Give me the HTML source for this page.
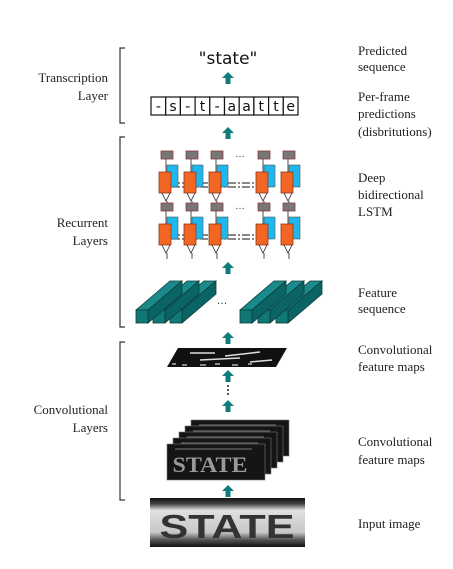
<!DOCTYPE html>
<html><head><meta charset="utf-8"><style>
html,body{margin:0;padding:0;background:#fff;}
svg{display:block;}
.l{font-family:"Liberation Serif",serif;font-size:13px;fill:#222;}
</style></head><body>
<svg id="s" width="453" height="569" viewBox="0 0 453 569">
<defs>
<linearGradient id="ig" x1="0" y1="0" x2="0" y2="1">
<stop offset="0" stop-color="#111"/><stop offset="0.12" stop-color="#444"/><stop offset="0.25" stop-color="#e0e0e0"/><stop offset="0.7" stop-color="#c8c8c8"/><stop offset="0.85" stop-color="#555"/><stop offset="1" stop-color="#111"/>
</linearGradient>
</defs>
<g class="l" text-anchor="end">
<text x="108" y="82">Transcription</text>
<text x="108" y="100">Layer</text>
<text x="108" y="227">Recurrent</text>
<text x="108" y="245">Layers</text>
<text x="108" y="414">Convolutional</text>
<text x="108" y="432">Layers</text>
</g>
<g stroke="#333" stroke-width="1.2" fill="none">
<path d="M125 48 H120 V123 H125"/>
<path d="M125 137 H120 V327 H125"/>
<path d="M125 342 H120 V500 H125"/>
</g>
<g class="l">
<text x="358" y="55">Predicted</text><text x="358" y="71">sequence</text>
<text x="358" y="101">Per-frame</text><text x="358" y="118">predictions</text><text x="358" y="136">(disbritutions)</text>
<text x="358" y="182">Deep</text><text x="358" y="199">bidirectional</text><text x="358" y="216">LSTM</text>
<text x="358" y="297">Feature</text><text x="358" y="313">sequence</text>
<text x="358" y="354">Convolutional</text><text x="358" y="371">feature maps</text>
<text x="358" y="446">Convolutional</text><text x="358" y="464">feature maps</text>
<text x="358" y="528">Input image</text>
</g>
<text x="228" y="64" text-anchor="middle" font-family="'DejaVu Sans',sans-serif" font-size="17" fill="#111">"state"</text>
<g id="cells"></g>
<g id="lstm"></g>
<g id="feat"></g>
<g id="arrows"></g>
<g>
<polygon points="178,348 287,348 276,367 167,367" fill="#111"/>
<path d="M190 353 L215 353 M225 356 L260 352 M200 360 L240 358 M250 362 L272 360" stroke="#ddd" stroke-width="1.5"/>
<path d="M172 364 h4 M182 365 h5 M200 365 h6 M215 364 h5 M232 365 h6 M248 364 h4" stroke="#888" stroke-width="2"/>
</g>
<g fill="#222">
<circle cx="228" cy="386" r="1"/><circle cx="228" cy="390" r="1"/><circle cx="228" cy="394" r="1"/>
</g>
<g id="stack"></g>
<g>
<rect x="150" y="498" width="155" height="49" fill="url(#ig)"/>
<text x="227" y="538" text-anchor="middle" font-family="'Liberation Sans',sans-serif" font-weight="bold" font-size="33" fill="#333" textLength="135" lengthAdjust="spacingAndGlyphs">STATE</text>
</g>
</svg>
<script>
const NS='http://www.w3.org/2000/svg';
function mk(p,t,a){const e=document.createElementNS(NS,t);for(const k in a)e.setAttribute(k,a[k]);p.appendChild(e);return e;}
const chars=['-','s','-','t','-','a','a','t','t','e'];
const cg=document.getElementById('cells');
const cw=14.7;
chars.forEach((c,i)=>{
  const r=mk(cg,'rect',{x:151+i*cw,y:97,width:cw,height:18,fill:'#fff',stroke:'#111','stroke-width':1.2});
  
  
  const t=mk(cg,'text',{x:151+i*cw+cw/2,y:111,'text-anchor':'middle','font-family':"'DejaVu Sans',sans-serif",'font-size':14,fill:'#111'});
  t.textContent=c;
});
const ag=document.getElementById('arrows');
const arrowY=[72,127,262,332,370,400,485];
arrowY.forEach(y=>{
  const p=mk(ag,'polygon',{points:`228,${y} 234,${y+6} 230.5,${y+6} 230.5,${y+12} 225.5,${y+12} 225.5,${y+6} 222,${y+6}`,fill:'#0e7c7b'});
  
  
});
const lg=document.getElementById('lstm');
const cols=[166,191,216,263,288];
const layers=[{g:151,o:172},{g:203,o:224}];
layers.forEach(L=>{
  mk(lg,'path',{d:`M172 ${L.o+11} H262 M172 ${L.o+15} H262`,stroke:'#111','stroke-width':1,'stroke-dasharray':'8 2 2 2',fill:'none'});
  cols.forEach(x=>{
    const b=mk(lg,'rect',{x:x+1,y:L.o-7,width:11,height:22,fill:'#1fb8ee',stroke:'#555','stroke-width':0.6});
    
    
    const o=mk(lg,'rect',{x:x-7,y:L.o,width:12,height:21,fill:'#f26522',stroke:'#8a3a20','stroke-width':0.8});
    
    
    const g=mk(lg,'rect',{x:x-5,y:L.g,width:12,height:8,fill:'#777',stroke:'#8a3a3a','stroke-width':0.8});
    
    
    mk(lg,'path',{d:`M${x} ${L.g+8} V${L.o} M${x-4} ${L.o+21} L${x} ${L.o+29} L${x+4} ${L.o+21} M${x+1} ${L.o+29} V${L.o+35}`,stroke:'#222','stroke-width':0.8,fill:'none'});
  });
  const d=mk(lg,'text',{x:240,y:L.g+6,'text-anchor':'middle','font-size':10,fill:'#333','font-family':"'Liberation Sans',sans-serif"});d.textContent='…';
});
const fg=document.getElementById('feat');
const fx=[136,153,170,240,258,276];
fx.slice().reverse().forEach(x=>{
  const dx=34,dy=-29,w=12,h=13,y=310;
  mk(fg,'polygon',{points:`${x},${y} ${x+dx},${y+dy} ${x+dx+w},${y+dy} ${x+w},${y}`,fill:'#1a8a8a',stroke:'#0a3a3a','stroke-width':0.8});
  mk(fg,'polygon',{points:`${x+w},${y} ${x+dx+w},${y+dy} ${x+dx+w},${y+dy+h} ${x+w},${y+h}`,fill:'#0b6464',stroke:'#0a3a3a','stroke-width':0.8});
  const f=mk(fg,'rect',{x:x,y:y,width:w,height:h,fill:'#117878',stroke:'#0a3a3a','stroke-width':0.8});
  
  
});
const dd=mk(fg,'text',{x:222,y:304,'text-anchor':'middle','font-size':11,fill:'#333','font-family':"'Liberation Sans',sans-serif"});dd.textContent='…';
const sg=document.getElementById('stack');
for(let i=4;i>=0;i--){
  const x=167+i*6,y=444-i*6;
  const r=mk(sg,'rect',{x:x,y:y,width:98,height:36,fill:'#151515',stroke:'#777','stroke-width':0.6});
  
  
  mk(sg,'path',{d:`M${x+8} ${y+5} H${x+85}`,stroke:'#666','stroke-width':1.2});
}
const st=mk(sg,'text',{x:210,y:472,'text-anchor':'middle','font-family':"'Liberation Serif',serif",'font-weight':'bold','font-size':22,fill:'#999',textLength:75,lengthAdjust:'spacingAndGlyphs'});st.textContent='STATE';
</script>
</body></html>
